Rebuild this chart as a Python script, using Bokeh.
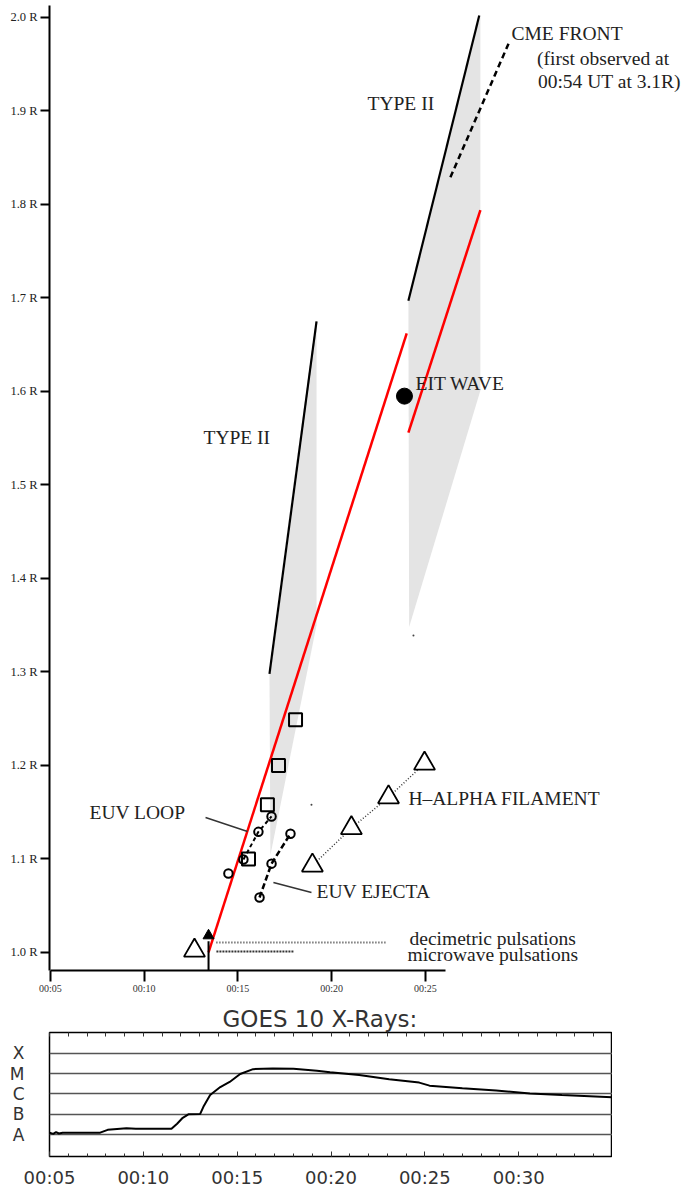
from bokeh.plotting import figure
from bokeh.layouts import column
from bokeh.models import (Range1d, LinearAxis, FixedTicker, PrintfTickFormatter,
                          CustomJSTickFormatter, Grid)
from bokeh.core.properties import value
from bokeh.embed import file_html
from bokeh.resources import INLINE

# ---------------- data (time = minutes after 00:00 UT, height = solar radii) ----
r_ticks = [1.0, 1.1, 1.2, 1.3, 1.4, 1.5, 1.6, 1.7, 1.8, 1.9, 2.0]
t_ticks_top = [5, 10, 15, 20, 25]
t_ticks_goes = [5, 10, 15, 20, 25, 30]
t_minor_goes = list(range(5, 36))

type2a_t = [16.68, 19.19]
type2a_r = [1.298, 1.675]
type2b_t = [24.09, 27.87]
type2b_r = [1.697, 2.002]

shade1_t = [16.68, 19.19, 19.19, 16.73]
shade1_r = [1.298, 1.675, 1.350, 1.104]
shade2_t = [24.09, 27.87, 27.93, 27.93, 24.13]
shade2_r = [1.697, 2.002, 2.002, 1.601, 1.348]

red1_t = [13.43, 24.00]
red1_r = [1.000, 1.662]
red2_t = [24.09, 27.93]
red2_r = [1.556, 1.794]

cme_t = [26.33, 29.43]
cme_r = [1.829, 1.972]

square_t = [15.56, 16.57, 17.16, 18.07]
square_r = [1.100, 1.158, 1.200, 1.249]

loop_t = [14.49, 15.29, 16.09, 16.79]
loop_r = [1.0845, 1.0995, 1.129, 1.1455]

ejecta_t = [16.15, 16.79, 17.80]
ejecta_r = [1.0588, 1.095, 1.127]

halpha_t = [18.97, 21.05, 23.03, 24.95]
halpha_r = [1.093, 1.133, 1.166, 1.202]

onset_t = [12.68]
onset_r = [1.002]
flare_t = [13.43]
flare_r = [1.018]
flare_stem_r = [1.012, 0.97]

eit_t = [23.88]
eit_r = [1.595]

decim_t = [13.85, 22.92]
decim_r = [1.0107, 1.0107]
micro_t = [13.85, 17.96]
micro_r = [1.001, 1.001]

lead_loop_t = [13.27, 15.51]
lead_loop_r = [1.1444, 1.1294]
lead_ej_t = [16.89, 18.92]
lead_ej_r = [1.0749, 1.0642]

speck_t = [18.92, 24.36]
speck_r = [1.158, 1.339]

labels = ["TYPE II", "TYPE II", "CME FRONT", "(first observed at", "00:54 UT at 3.1R)",
          "EIT WAVE", "H\u2013ALPHA FILAMENT", "EUV LOOP", "EUV EJECTA",
          "decimetric pulsations", "microwave pulsations"]
label_t = [13.16, 21.91, 29.59, 30.95, 31.00, 24.47, 24.09, 7.08, 19.19, 24.15, 24.04]
label_r = [1.551, 1.908, 1.983, 1.956, 1.932, 1.609, 1.165, 1.150, 1.065, 1.015, 0.998]

goes_t = [5.0, 5.2, 5.35, 5.5, 5.7, 7.7, 8.1, 9.1, 9.6, 10.2, 11.5, 11.8, 12.1, 12.4,
          13.03, 13.2, 13.56, 14.1, 14.6, 15.16, 15.85, 16.9, 18.0, 19.25, 19.95,
          21.5, 23.1, 24.7, 25.25, 27.0, 28.8, 30.6, 32.3, 35.0]
goes_lvl = [0.10, 0.04, 0.13, 0.06, 0.10, 0.10, 0.24, 0.32, 0.29, 0.29, 0.29, 0.54, 0.83, 1.0,
            1.02, 1.37, 1.95, 2.34, 2.59, 2.98, 3.22, 3.25, 3.24, 3.14, 3.07,
            2.93, 2.72, 2.56, 2.41, 2.28, 2.17, 2.03, 1.95, 1.84]
goes_classes = ["A", "B", "C", "M", "X"]
goes_levels = [0, 1, 2, 3, 4]

SERIF = value("Liberation Serif")

# ---------------- top chart ----------------
p = figure(width=685, height=1000, x_range=Range1d(4.947, 38.87), y_range=Range1d(0.9807, 2.0128),
           output_backend="svg", toolbar_location=None, x_axis_type=None, y_axis_type=None,
           min_border_left=49, min_border_right=0, min_border_top=5, min_border_bottom=30)
p.outline_line_color = None

xax = LinearAxis(ticker=FixedTicker(ticks=t_ticks_top),
                 formatter=PrintfTickFormatter(format="00:%02d"), bounds=(5, 26.07))
xax.axis_line_width = 2
xax.major_tick_line_width = 2
xax.major_tick_out = 11
xax.major_tick_in = 0
xax.minor_tick_out = 0
xax.major_label_standoff = 1
xax.major_label_text_font = "Liberation Serif"
xax.major_label_text_font_size = "10px"
xax.major_label_text_color = "#333333"
p.add_layout(xax, "below")

yax = LinearAxis(ticker=FixedTicker(ticks=r_ticks), formatter=PrintfTickFormatter(format="%.1f R"))
yax.axis_line_width = 2
yax.major_tick_line_width = 2
yax.major_tick_out = 9
yax.major_tick_in = 0
yax.minor_tick_out = 0
yax.major_label_standoff = 3
yax.major_label_text_font = "Liberation Serif"
yax.major_label_text_font_size = "12.5px"
yax.major_label_text_color = "#222222"
p.add_layout(yax, "left")

shade = "#e4e4e4"
p.patch(shade1_t, shade1_r, fill_color=shade, line_color=None)
p.patch(shade2_t, shade2_r, fill_color=shade, line_color=None)

p.line(type2a_t, type2a_r, line_color="black", line_width=2.2)
p.line(type2b_t, type2b_r, line_color="black", line_width=2.2)
p.line(red1_t, red1_r, line_color="red", line_width=2.5)
p.line(red2_t, red2_r, line_color="red", line_width=2.5)
p.line(cme_t, cme_r, line_color="black", line_width=2.5, line_dash="6 4")

p.line(loop_t[1:], loop_r[1:], line_color="black", line_width=2, line_dash="4 3")
p.line(ejecta_t, ejecta_r, line_color="black", line_width=2.5, line_dash="6 3")
p.line(halpha_t, halpha_r, line_color="#333333", line_width=1.5, line_dash="1 2")
p.line(decim_t, decim_r, line_color="#333333", line_width=2, line_dash="1 2")
p.line(micro_t, micro_r, line_color="#333333", line_width=2, line_dash="2 1")
p.line(lead_loop_t, lead_loop_r, line_color="#333333", line_width=1.5)
p.line(lead_ej_t, lead_ej_r, line_color="#333333", line_width=1.5)
p.line(flare_t * 2, flare_stem_r, line_color="black", line_width=2)

p.scatter(square_t, square_r, marker="square", size=13, line_color="black", line_width=2,
          fill_color=None)
p.scatter(loop_t, loop_r, marker="circle", size=8.5, line_color="black", line_width=2,
          fill_color=None)
p.scatter(ejecta_t, ejecta_r, marker="circle", size=8.5, line_color="black", line_width=2,
          fill_color=None)
p.scatter(halpha_t, halpha_r, marker="triangle", size=21, line_color="black", line_width=1.8,
          fill_color="white")
p.scatter(onset_t, onset_r, marker="triangle", size=21, line_color="black", line_width=1.8,
          fill_color="white")
p.scatter(flare_t, flare_r, marker="triangle", size=11, line_color="black", line_width=1,
          fill_color="black")
p.scatter(eit_t, eit_r, marker="circle", size=16, line_color="black", fill_color="black")
p.scatter(speck_t, speck_r, marker="circle", size=2, line_color=None, fill_color="#444444")

p.text(x=label_t, y=label_r, text=labels, text_font=SERIF, text_font_size="19.5px",
       text_baseline="middle", text_align="left", text_color="#222222")

# ---------------- GOES panel ----------------
g = figure(width=612, height=190, x_range=Range1d(5, 35), y_range=Range1d(-1.07, 5.02),
           output_backend="svg", toolbar_location=None, x_axis_type=None, y_axis_type=None,
           min_border_left=49, min_border_right=0, min_border_top=32, min_border_bottom=33)
g.title.text = "GOES 10 X-Rays:"
g.title.align = "left"
g.title.text_font = "DejaVu Sans"
g.title.text_font_style = "normal"
g.title.text_font_size = "23px"
g.title.text_color = "#333333"
g.title.standoff = 2
g.title.offset = 173
g.outline_line_color = "black"
g.outline_line_width = 1.5
g.outline_line_alpha = 1

gy = LinearAxis(ticker=FixedTicker(ticks=goes_levels),
                formatter=CustomJSTickFormatter(args=dict(names=goes_classes),
                                                code="return names[Math.round(tick)];"))
gy.axis_line_color = None
gy.major_tick_out = 0
gy.major_tick_in = 0
gy.minor_tick_out = 0
gy.minor_tick_in = 0
gy.major_label_standoff = 25
gy.major_label_text_font = "DejaVu Sans"
gy.major_label_text_font_size = "17px"
gy.major_label_text_color = "#333333"
g.add_layout(gy, "left")
g.add_layout(Grid(dimension=1, axis=gy, grid_line_color="#555555", grid_line_width=1.5))

gx = LinearAxis(ticker=FixedTicker(ticks=t_ticks_goes, minor_ticks=t_minor_goes),
                formatter=PrintfTickFormatter(format="00:%02d"))
gx.axis_line_color = None
gx.major_tick_in = 5
gx.major_tick_out = 0
gx.minor_tick_in = 3
gx.minor_tick_out = 0
gx.major_tick_line_color = "#333333"
gx.minor_tick_line_color = "#333333"
gx.major_label_standoff = 10
gx.major_label_text_font = "DejaVu Sans"
gx.major_label_text_font_size = "18px"
gx.major_label_text_color = "#333333"
g.add_layout(gx, "below")

gtop = LinearAxis(ticker=FixedTicker(ticks=[], minor_ticks=t_minor_goes))
gtop.axis_line_color = None
gtop.major_tick_in = 0
gtop.major_tick_out = 0
gtop.minor_tick_in = 4
gtop.minor_tick_out = 0
gtop.minor_tick_line_color = "#333333"
gtop.major_label_standoff = 0
g.add_layout(gtop, "above")

g.line(goes_t, goes_lvl, line_color="black", line_width=2)

layout = column(p, g)
open("out.html", "w").write(file_html(layout, INLINE))
